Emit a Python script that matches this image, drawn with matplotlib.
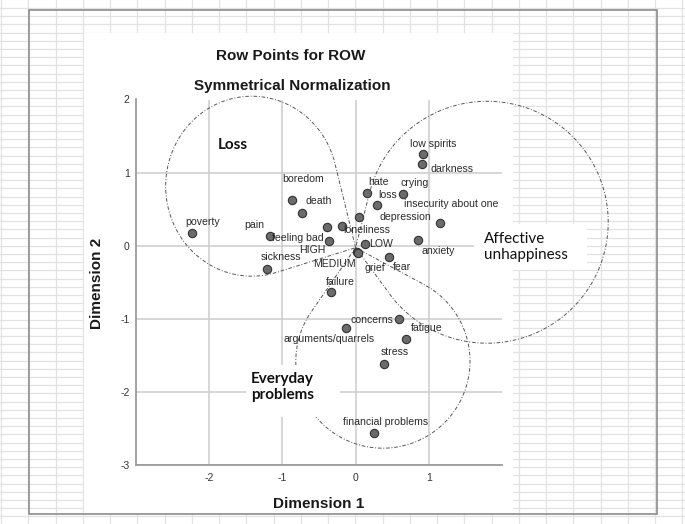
import numpy as np
import matplotlib
matplotlib.use("Agg")
import matplotlib.pyplot as plt
from matplotlib.patches import Rectangle

# ---------------- data ----------------
terms = ["poverty", "pain", "sickness", "boredom", "death", "feeling bad", "HIGH",
         "loneliness", "depression", "hate", "loss", "crying", "low spirits", "darkness",
         "insecurity about one", "LOW", "MEDIUM", "grief", "fear", "anxiety", "failure",
         "concerns", "arguments/quarrels", "fatigue", "stress", "financial problems"]
dim1 = [-2.24, -1.163, -1.209, -0.867, -0.73, -0.397, -0.365,
        -0.19, 0.045, 0.155, 0.296, 0.643, 0.916, 0.903,
        1.149, 0.127, 0.022, 0.03, 0.456, 0.848, -0.342,
        0.592, -0.133, 0.684, 0.391, 0.25]
dim2 = [0.175, 0.134, -0.317, 0.627, 0.454, 0.253, 0.062,
        0.271, 0.399, 0.727, 0.554, 0.714, 1.248, 1.115,
        0.312, 0.02, -0.093, -0.10, -0.148, 0.075, -0.64,
        -0.996, -1.124, -1.279, -1.621, -2.561]
x_ticks = [-2, -1, 0, 1]
y_ticks = [-3, -2, -1, 0, 1, 2]
title_lines = ["Row Points for ROW", "Symmetrical Normalization"]
x_title = "Dimension 1"
y_title = "Dimension 2"
group_names = ["Loss", "Affective\nunhappiness", "Everyday\nproblems"]

# ---------------- layout / style ----------------
# label offsets (pixels, x right / y up) relative to each point
label_offsets = [(10.8, 11), (-16.5, 11.4), (14.2, 11.4), (11, 20.7), (16.5, 11.6),
                 (-28.5, -10.3), (-16.7, -9), (25, -4.3), (46.7, -0.6), (12, 11),
                 (10.7, 10.7), (11.5, 11), (10.5, 10.6), (30, -5), (11.3, 18.4),
                 (15.8, 0), (-22.3, -11.7), (17.2, -15.4), (12.8, -10.4), (20.6, -10.7),
                 (9.5, 10.6), (-26.5, -1.7), (-17, -11), (20.8, 11.3), (11, 11.7), (11.8, 11)]
# loops: (center x, center y, semi-axis x, semi-axis y) in data units, shared apex
apex = (0.0, -0.027)
loops = [(-1.419, 0.814, 1.176, 1.231),
         (1.796, 0.321, 1.655, 1.655),
         (0.373, -1.58, 1.19, 1.19)]

W, H = 685, 524
plt.rcParams["font.family"] = ["Liberation Sans", "DejaVu Sans"]
plt.rcParams["lines.scale_dashes"] = False
plt.rcParams["axes.unicode_minus"] = False

fig = plt.figure(figsize=(W / 100, H / 100), dpi=100)
fig.patch.set_facecolor("white")

# spreadsheet background
bg = fig.add_axes([0, 0, 1, 1])
bg.set_xlim(0, W)
bg.set_ylim(H, 0)
bg.axis("off")
for gx in np.arange(1.25, W, 27.25):
    bg.axvline(gx, color="#e2e2e2", lw=0.9, zorder=0)
for gy in np.arange(7.9, H, 8.2):
    bg.axhline(gy, color="#e2e2e2", lw=0.9, zorder=0)
bg.add_patch(Rectangle((84, 33), 429, 481, facecolor="white", edgecolor="none", zorder=1))
bg.add_patch(Rectangle((29, 9.5), 628, 504.5, fill=False, edgecolor="#8c8c8c", lw=1.2, zorder=2))

# main chart axes
L, R, T, B = 136, 502, 99.5, 465
ax = fig.add_axes([L / W, 1 - B / H, (R - L) / W, (B - T) / H])
ax.set_facecolor("none")
ax.set_xlim(-3.0, 2.0)
ax.set_ylim(-3.0, 2.0)
ax.set_xticks(x_ticks)
ax.set_yticks(y_ticks)
ax.tick_params(length=0, labelsize=7.5, labelcolor="#333333")
ax.tick_params(axis="x", pad=6)
ax.tick_params(axis="y", pad=4.5)
ax.grid(True, color="#cfcfcf", lw=1.2, zorder=0)
ax.set_axisbelow(True)
for s in ["top", "right"]:
    ax.spines[s].set_visible(False)
for s in ["left", "bottom"]:
    ax.spines[s].set_color("#9c9c9c")
    ax.spines[s].set_linewidth(1.3)

ppu = (R - L) / 5.0  # pixels per data unit


def px2d(px, py):
    return (px - L) / ppu - 3.0, 2.0 - (py - T) / ppu


# loops (teardrops: ellipse arc + tangents to the apex)
for cx, cy, a, b in loops:
    ux, uy = (apex[0] - cx) / a, (apex[1] - cy) / b
    d = np.hypot(ux, uy)
    phi = np.arctan2(uy, ux)
    beta = np.arccos(1.0 / d)
    t = np.linspace(phi + beta, phi + 2 * np.pi - beta, 400)
    xs = np.concatenate([[apex[0]], cx + a * np.cos(t), [apex[0]]])
    ys = np.concatenate([[apex[1]], cy + b * np.sin(t), [apex[1]]])
    ax.plot(xs, ys, color="#555555", lw=0.7, ls=(0, (2.6, 1.3, 0.7, 1.3)),
            clip_on=False, zorder=2)

# white boxes behind group names
for (x0, y0, x1, y1) in [(474, 224, 587, 270), (246, 365, 340, 417), (214, 134, 252, 157)]:
    dx0, dy1 = px2d(x0, y1)
    dx1, dy0 = px2d(x1, y0)
    ax.add_patch(Rectangle((dx0, dy1), dx1 - dx0, dy0 - dy1, facecolor="white",
                           edgecolor="none", clip_on=False, zorder=3))

# points and labels
ax.scatter(dim1, dim2, s=36, facecolor="#6b6b6b", edgecolor="#333333", lw=0.8, zorder=4)
for name, x, y, (ox, oy) in zip(terms, dim1, dim2, label_offsets):
    ax.annotate(name, (x, y), xytext=(ox, oy), textcoords="offset pixels",
                ha="center", va="center", fontsize=7.6, color="#2b2b2b", zorder=5)

# group names
gfont = dict(family=["Lato", "DejaVu Sans"], fontsize=11, color="#111111", zorder=6)
gx, gy = px2d(233, 145)
ax.text(gx, gy, group_names[0], ha="center", va="center", weight="bold", **gfont)
gx, gy = px2d(484, 247.5)
ax.text(gx, gy, group_names[1], ha="left", va="center", linespacing=1.2, **gfont)
gx, gy = px2d(251, 387.5)
ax.text(gx, gy, group_names[2], ha="left", va="center", linespacing=1.2,
        weight="bold", **gfont)

# titles
fig.text(291 / W, 1 - 56 / H, title_lines[0], ha="center", va="center",
         fontsize=11, weight="bold", color="#1a1a1a")
fig.text(292 / W, 1 - 86 / H, title_lines[1], ha="center", va="center",
         fontsize=11, weight="bold", color="#1a1a1a")
fig.text(319 / W, 1 - 504 / H, x_title, ha="center", va="center",
         fontsize=11, weight="bold", color="#1a1a1a")
fig.text(97 / W, 1 - 283 / H, y_title, ha="center", va="center", rotation=90,
         fontsize=11, weight="bold", color="#1a1a1a")

fig.savefig("out.png", dpi=100)
